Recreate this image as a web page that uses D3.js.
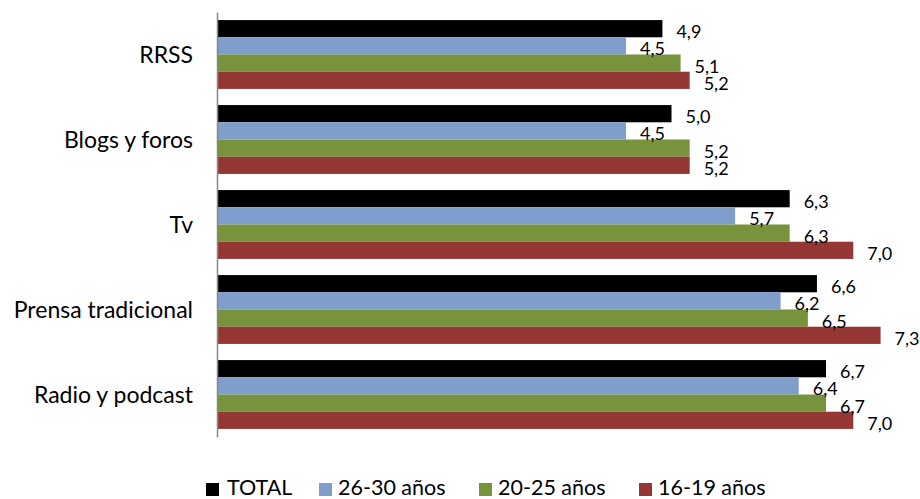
<!DOCTYPE html>
<html><head><meta charset="utf-8">
<script src="https://cdn.jsdelivr.net/npm/d3@7"></script>
<style>body{margin:0;background:#fff}svg{display:block}text{font-family:Lato,sans-serif;fill:#000}</style>
</head><body><svg id="c" width="920" height="499"></svg>
<script>
const categories = ["RRSS","Blogs y foros","Tv","Prensa tradicional","Radio y podcast"];
const seriesNames = ["TOTAL","26-30 años","20-25 años","16-19 años"];
const totalValues = [4.9,5.0,6.3,6.6,6.7];
const v26_30 = [4.5,4.5,5.7,6.2,6.4];
const v20_25 = [5.1,5.2,6.3,6.5,6.7];
const v16_19 = [5.2,5.2,7.0,7.3,7.0];
const colors = ["#000000","#7f9ecb","#77933c","#953735"];
const seriesValues = [totalValues, v26_30, v20_25, v16_19];

const svg = d3.select("#c");
const x0 = 217;
const x = d3.scaleLinear().domain([0,8]).range([x0, x0 + 8*90.9]);
const y = d3.scaleBand().domain(categories).range([12,437]).paddingInner(0.19).paddingOuter(0.095);
const ys = d3.scaleBand().domain(d3.range(4)).range([0, y.bandwidth()]);

const fmt = v => d3.format(".1f")(v).replace(".", ",");

categories.forEach((c,i)=>{
  const g = svg.append("g").attr("transform",`translate(0,${y(c)})`);
  seriesValues.forEach((vals,s)=>{
    g.append("rect").attr("x",x(0)+1).attr("y",ys(s)).attr("width",x(vals[i])-x(0)-1).attr("height",ys.bandwidth()).attr("fill",colors[s]);
  });
});
categories.forEach((c,i)=>{
  const g = svg.append("g").attr("transform",`translate(0,${y(c)})`);
  seriesValues.forEach((vals,s)=>{
    g.append("text").attr("x",x(vals[i])+14).attr("y",ys(s)+ys.bandwidth()/2+2.5).attr("dominant-baseline","central").attr("font-size",18).text(fmt(vals[i]));
  });
});
// axis
const ax = svg.append("g").attr("transform",`translate(${x0},0)`).call(d3.axisLeft(y).tickSize(0).tickPadding(24));
ax.select(".domain").attr("stroke","#888").attr("stroke-width",1.5);
ax.selectAll("text").attr("font-size",23).attr("font-family","Lato,sans-serif").attr("fill","#000").attr("dy","0.35em");

// legend
const legX = [206,319,479,639];
const leg = svg.append("g");
seriesNames.forEach((n,s)=>{
  leg.append("rect").attr("x",legX[s]).attr("y",483).attr("width",13).attr("height",13).attr("fill",colors[s]);
  leg.append("text").attr("x",legX[s]+(s===0?21:19)).attr("y",487).attr("dominant-baseline","central").attr("font-size",21.5).text(n);
});
</script></body></html>
